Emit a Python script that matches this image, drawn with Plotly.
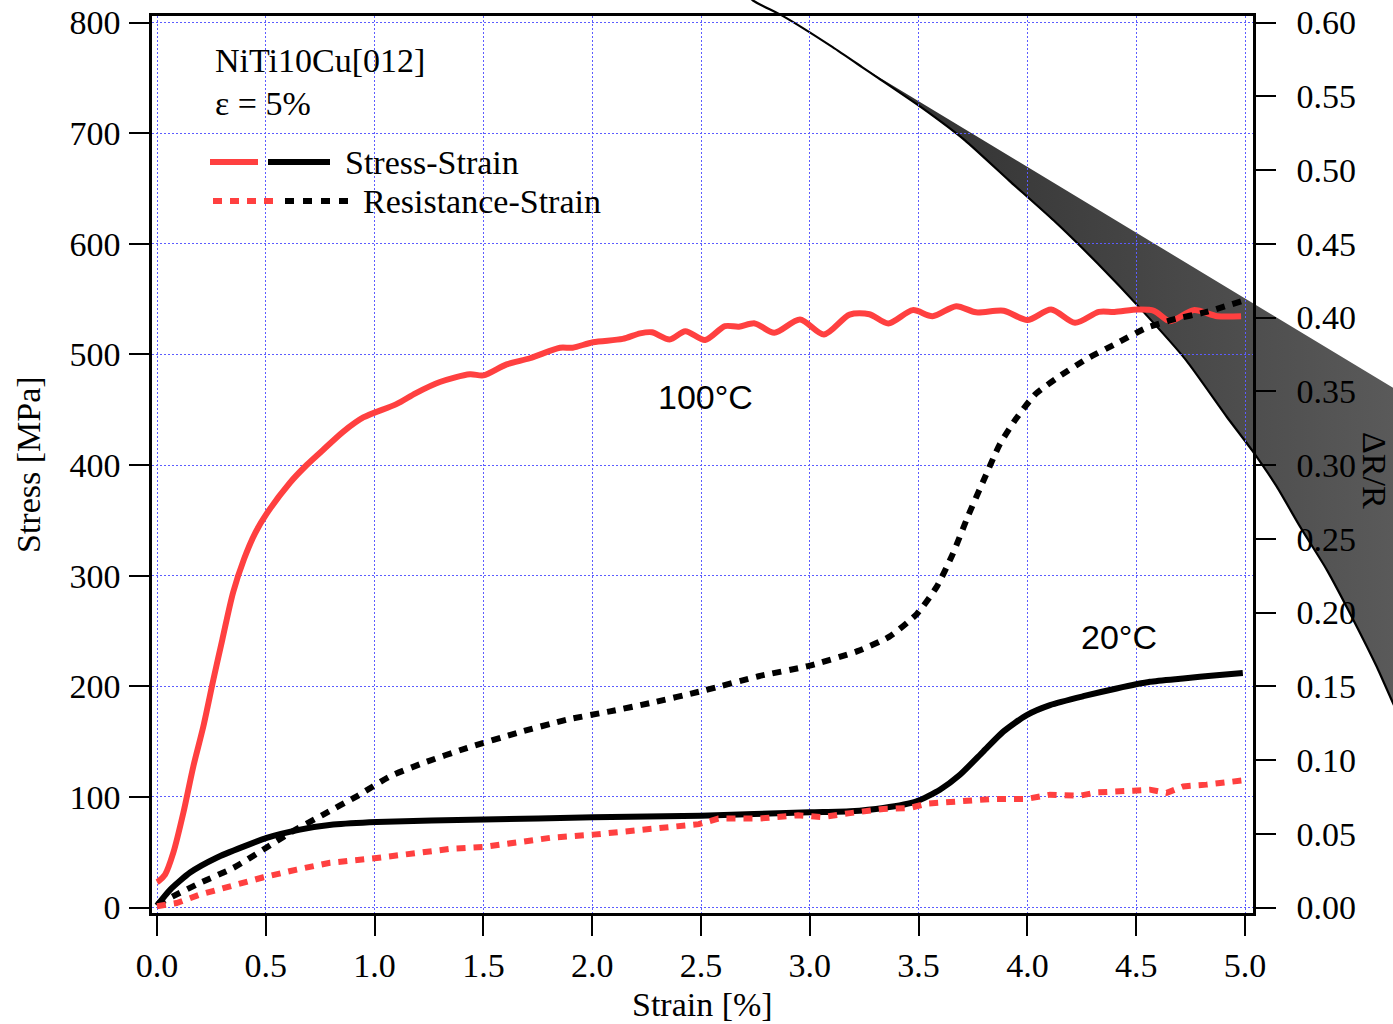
import plotly.graph_objects as go

# ---------------- data ----------------
strain_stress_100 = [0.0, 0.006, 0.037, 0.075, 0.121, 0.167, 0.213, 0.259, 0.30, 0.35, 0.40,
                     0.45, 0.504, 0.611, 0.688, 0.763, 0.855, 0.948, 1.10, 1.19, 1.30, 1.438,
                     1.50, 1.607, 1.714, 1.852, 1.91, 2.004, 2.14, 2.22, 2.274, 2.356, 2.428,
                     2.519, 2.61, 2.674, 2.747, 2.837, 2.955, 3.065, 3.183, 3.274, 3.361, 3.473,
                     3.564, 3.673, 3.764, 3.891, 4.0, 4.109, 4.219, 4.328, 4.40, 4.509, 4.582,
                     4.655, 4.764, 4.873, 4.982]
stress_100 = [23, 23.7, 29.8, 49.6, 85.6, 127.6, 163.7, 206, 242, 285, 315,
              338, 356, 384, 400, 413.6, 430, 443, 455, 465, 475, 482,
              481, 491, 496.5, 506, 506, 511, 514, 519, 520, 513.5, 521,
              513, 525.5, 525, 528, 519.5, 531.5, 518, 536, 536.3, 528, 540,
              534.5, 543.5, 538, 539.5, 531, 540.5, 528.5, 538.4, 538.4, 540.5, 539.4,
              530, 540, 534.5, 534.5]

strain_stress_20 = [0.0, 0.06, 0.152, 0.274, 0.397, 0.504, 0.657, 0.81, 1.01, 1.5, 2.005, 2.5,
                    3.0, 3.185, 3.338, 3.491, 3.598, 3.69, 3.797, 3.889, 3.997, 4.104, 4.257,
                    4.41, 4.563, 4.716, 4.87, 4.99]
stress_20 = [1.8, 16, 31.6, 45, 55, 63, 70.4, 75, 77.4, 79.5, 81.5, 83,
             86, 87, 90, 96, 106.5, 120, 141, 159, 174, 183, 191,
             198, 204, 207, 210, 212]

strain_res_100 = [0.0, 0.09, 0.198, 0.335, 0.489, 0.642, 0.795, 1.01, 1.193, 1.346, 1.50, 1.653,
                  1.806, 2.005, 2.266, 2.49, 2.58, 2.765, 2.946, 3.056, 3.185, 3.338, 3.46,
                  3.537, 3.69, 3.843, 3.997, 4.104, 4.242, 4.318, 4.487, 4.563, 4.64, 4.716,
                  4.823, 4.992]
res_100 = [0.0009, 0.003, 0.0088, 0.0144, 0.0205, 0.0257, 0.0303, 0.0336, 0.037, 0.0397, 0.041, 0.0438,
           0.0472, 0.0494, 0.0528, 0.0565, 0.0603, 0.0603, 0.0625, 0.0613, 0.064, 0.0668, 0.0675,
           0.0704, 0.072, 0.0736, 0.0736, 0.0765, 0.0758, 0.078, 0.0792, 0.0799, 0.0777, 0.0821,
           0.0833, 0.0862]

strain_res_20 = [0.0, 0.075, 0.198, 0.351, 0.489, 0.611, 0.764, 0.918, 1.071, 1.224, 1.423, 1.653,
                 1.883, 2.082, 2.266, 2.51, 2.765, 3.0, 3.219, 3.364, 3.492, 3.583, 3.655, 3.728,
                 3.8, 3.873, 3.946, 4.037, 4.146, 4.273, 4.40, 4.545, 4.672, 4.818, 4.982]
res_20 = [0.002, 0.0077, 0.0167, 0.0269, 0.0393, 0.0506, 0.063, 0.0754, 0.0889, 0.098, 0.1081, 0.1183,
          0.1273, 0.133, 0.1386, 0.147, 0.1568, 0.164, 0.1738, 0.1835, 0.199, 0.2174, 0.239, 0.2657,
          0.29, 0.314, 0.331, 0.348, 0.36, 0.372, 0.3817, 0.3928, 0.3987, 0.4036, 0.411]

# dark wedge artefact (strain, dR/R units)
wedge_lower_strain = [2.702, 2.739, 2.881, 3.105, 3.24, 3.308, 3.511, 3.713, 3.915, 4.120, 4.323,
                      4.526, 4.729, 4.916, 5.031, 5.146, 5.253, 5.376, 5.498, 5.605, 5.680, 5.758]
wedge_lower_dr = [0.6203, 0.6149, 0.6040, 0.5833, 0.5698, 0.5630, 0.5426, 0.5201, 0.4930, 0.4659, 0.4366,
                  0.4050, 0.3711, 0.3327, 0.3102, 0.2853, 0.2582, 0.2289, 0.1950, 0.1634, 0.1386, 0.1138]
wedge_upper_strain = [3.24, 5.804]
wedge_upper_dr = [0.5698, 0.3413]

x_ticks = [0.0, 0.5, 1.0, 1.5, 2.0, 2.5, 3.0, 3.5, 4.0, 4.5, 5.0]
stress_ticks = [0, 100, 200, 300, 400, 500, 600, 700, 800]
dr_ticks = [0.00, 0.05, 0.10, 0.15, 0.20, 0.25, 0.30, 0.35, 0.40, 0.45, 0.50, 0.55, 0.60]

# ---------------- layout geometry ----------------
W, H = 1393, 1024
def fx(p):
    return p / W
def fy(p):
    return 1 - p / H

SERIF = "Liberation Serif, Times New Roman, serif"
SANS = "Liberation Sans, Arial, sans-serif"
RED = "#ff4040"
GRID = "#5c5cff"

fig = go.Figure()

# wedge (on full-page overlay axes, drawn below everything)
split = wedge_lower_strain.index(wedge_upper_strain[0])
fig.add_trace(go.Scatter(
    x=wedge_lower_strain[split:] + wedge_upper_strain[::-1],
    y=wedge_lower_dr[split:] + wedge_upper_dr[::-1],
    fill="toself", mode="lines", line=dict(width=0, color="#333333"),
    fillgradient=dict(type="horizontal", colorscale=[[0, "#2e2e2e"], [1, "#5c5c5c"]]),
    xaxis="x", yaxis="y", showlegend=False, hoverinfo="skip"))
fig.add_trace(go.Scatter(
    x=wedge_lower_strain, y=wedge_lower_dr, mode="lines",
    line=dict(color="black", width=2.2, shape="spline", smoothing=0.5), xaxis="x", yaxis="y",
    showlegend=False, hoverinfo="skip"))

# main data
fig.add_trace(go.Scatter(x=strain_stress_100, y=stress_100, mode="lines",
                         line=dict(color=RED, width=6, shape="spline", smoothing=0.8),
                         xaxis="x2", yaxis="y2", showlegend=False))
fig.add_trace(go.Scatter(x=strain_stress_20, y=stress_20, mode="lines",
                         line=dict(color="black", width=6, shape="spline", smoothing=0.6),
                         xaxis="x2", yaxis="y2", showlegend=False))
fig.add_trace(go.Scatter(x=strain_res_20, y=res_20, mode="lines",
                         line=dict(color="black", width=6, dash="9px,8px", shape="spline", smoothing=0.6),
                         xaxis="x2", yaxis="y3", showlegend=False))
fig.add_trace(go.Scatter(x=strain_res_100, y=res_100, mode="lines",
                         line=dict(color=RED, width=6, dash="9px,8px"),
                         xaxis="x2", yaxis="y3", showlegend=False))

# pixel mapping of the main frame
x0_px, x5_px = 157, 1245
frame_l, frame_r, frame_t, frame_b = 152, 1253, 16, 913
y0_px, y800_px = 907.5, 22.5
sx = (x5_px - x0_px) / 5.0
sy = (y0_px - y800_px) / 800.0
sr = (y0_px - y800_px) / 0.6

xr = [(frame_l - x0_px) / sx, (frame_r - x0_px) / sx]
yr_l = [(y0_px - frame_b) / sy, (y0_px - frame_t) / sy]
yr_r = [(y0_px - frame_b) / sr, (y0_px - frame_t) / sr]

ov_x = [(0 - x0_px) / sx, (W - x0_px) / sx]
ov_y = [(y0_px - H) / sr, (y0_px - 0) / sr]

tickfont = dict(family=SERIF, size=34, color="black")

fig.update_layout(
    template="none",
    width=W, height=H,
    margin=dict(l=0, r=0, t=0, b=0, pad=0, autoexpand=False),
    paper_bgcolor="white", plot_bgcolor="rgba(0,0,0,0)",
    showlegend=False,
    xaxis=dict(domain=[0, 1], range=ov_x, visible=False, anchor="y", automargin=False),
    yaxis=dict(domain=[0, 1], range=ov_y, visible=False, anchor="x", automargin=False),
    xaxis2=dict(domain=[fx(frame_l), fx(frame_r)], range=xr, anchor="y2", automargin=False,
                tickmode="array", tickvals=x_ticks, ticktext=[f"{v:.1f}" for v in x_ticks],
                ticks="outside", ticklen=20, tickwidth=2, tickcolor="black",
                showline=True, linecolor="black", linewidth=2.5, mirror=True,
                showgrid=True, gridcolor=GRID, gridwidth=1, griddash="2px,2px",
                zeroline=False, tickfont=tickfont, ticklabelstandoff=0),
    yaxis2=dict(domain=[fy(frame_b), fy(frame_t)], range=yr_l, anchor="x2", automargin=False,
                tickmode="array", tickvals=stress_ticks, ticktext=[str(v) for v in stress_ticks],
                ticks="outside", ticklen=20, tickwidth=2, tickcolor="black",
                showline=True, linecolor="black", linewidth=2.5,
                showgrid=True, gridcolor=GRID, gridwidth=1, griddash="2px,2px",
                zeroline=False, tickfont=tickfont, ticklabelstandoff=2),
    yaxis3=dict(range=yr_r, overlaying="y2", side="right", anchor="x2", automargin=False,
                tickmode="array", tickvals=dr_ticks, ticktext=[f"{v:.2f}" for v in dr_ticks],
                ticks="outside", ticklen=20, tickwidth=2, tickcolor="black",
                showline=True, linecolor="black", linewidth=2.5,
                showgrid=False, zeroline=False, tickfont=tickfont, ticklabelstandoff=14),
)

ann = []
def text(t, x, y, size=34, family=SERIF, xanchor="left", angle=0):
    ann.append(dict(text=t, x=fx(x), y=fy(y), xref="paper", yref="paper",
                    xanchor=xanchor, yanchor="middle", showarrow=False, textangle=angle,
                    font=dict(family=family, size=size, color="black")))

text("NiTi10Cu[012]", 213, 60)
text("ε = 5%", 213, 103)
text("Stress-Strain", 343, 162)
text("Resistance-Strain", 361, 201)
text("100°C", 705, 397, family=SANS, xanchor="center")
text("20°C", 1119, 637, family=SANS, xanchor="center")
text("Strain [%]", 702, 1004, xanchor="center")
text("Stress [MPa]", 28, 465, xanchor="center", angle=-90)
text("ΔR/R", 1375, 470, xanchor="center", angle=90)
fig.update_layout(annotations=ann)

shapes = []
def seg(xa, xb, y, color, dash="solid"):
    shapes.append(dict(type="line", xref="paper", yref="paper",
                       x0=fx(xa), x1=fx(xb), y0=fy(y), y1=fy(y),
                       line=dict(color=color, width=6, dash=dash)))
seg(210, 258, 162, RED)
seg(268, 330, 162, "black")
seg(213, 273, 201, RED, "9px,8px")
seg(285, 348, 201, "black", "9px,9px")
fig.update_layout(shapes=shapes)

fig.write_html("out.html")
